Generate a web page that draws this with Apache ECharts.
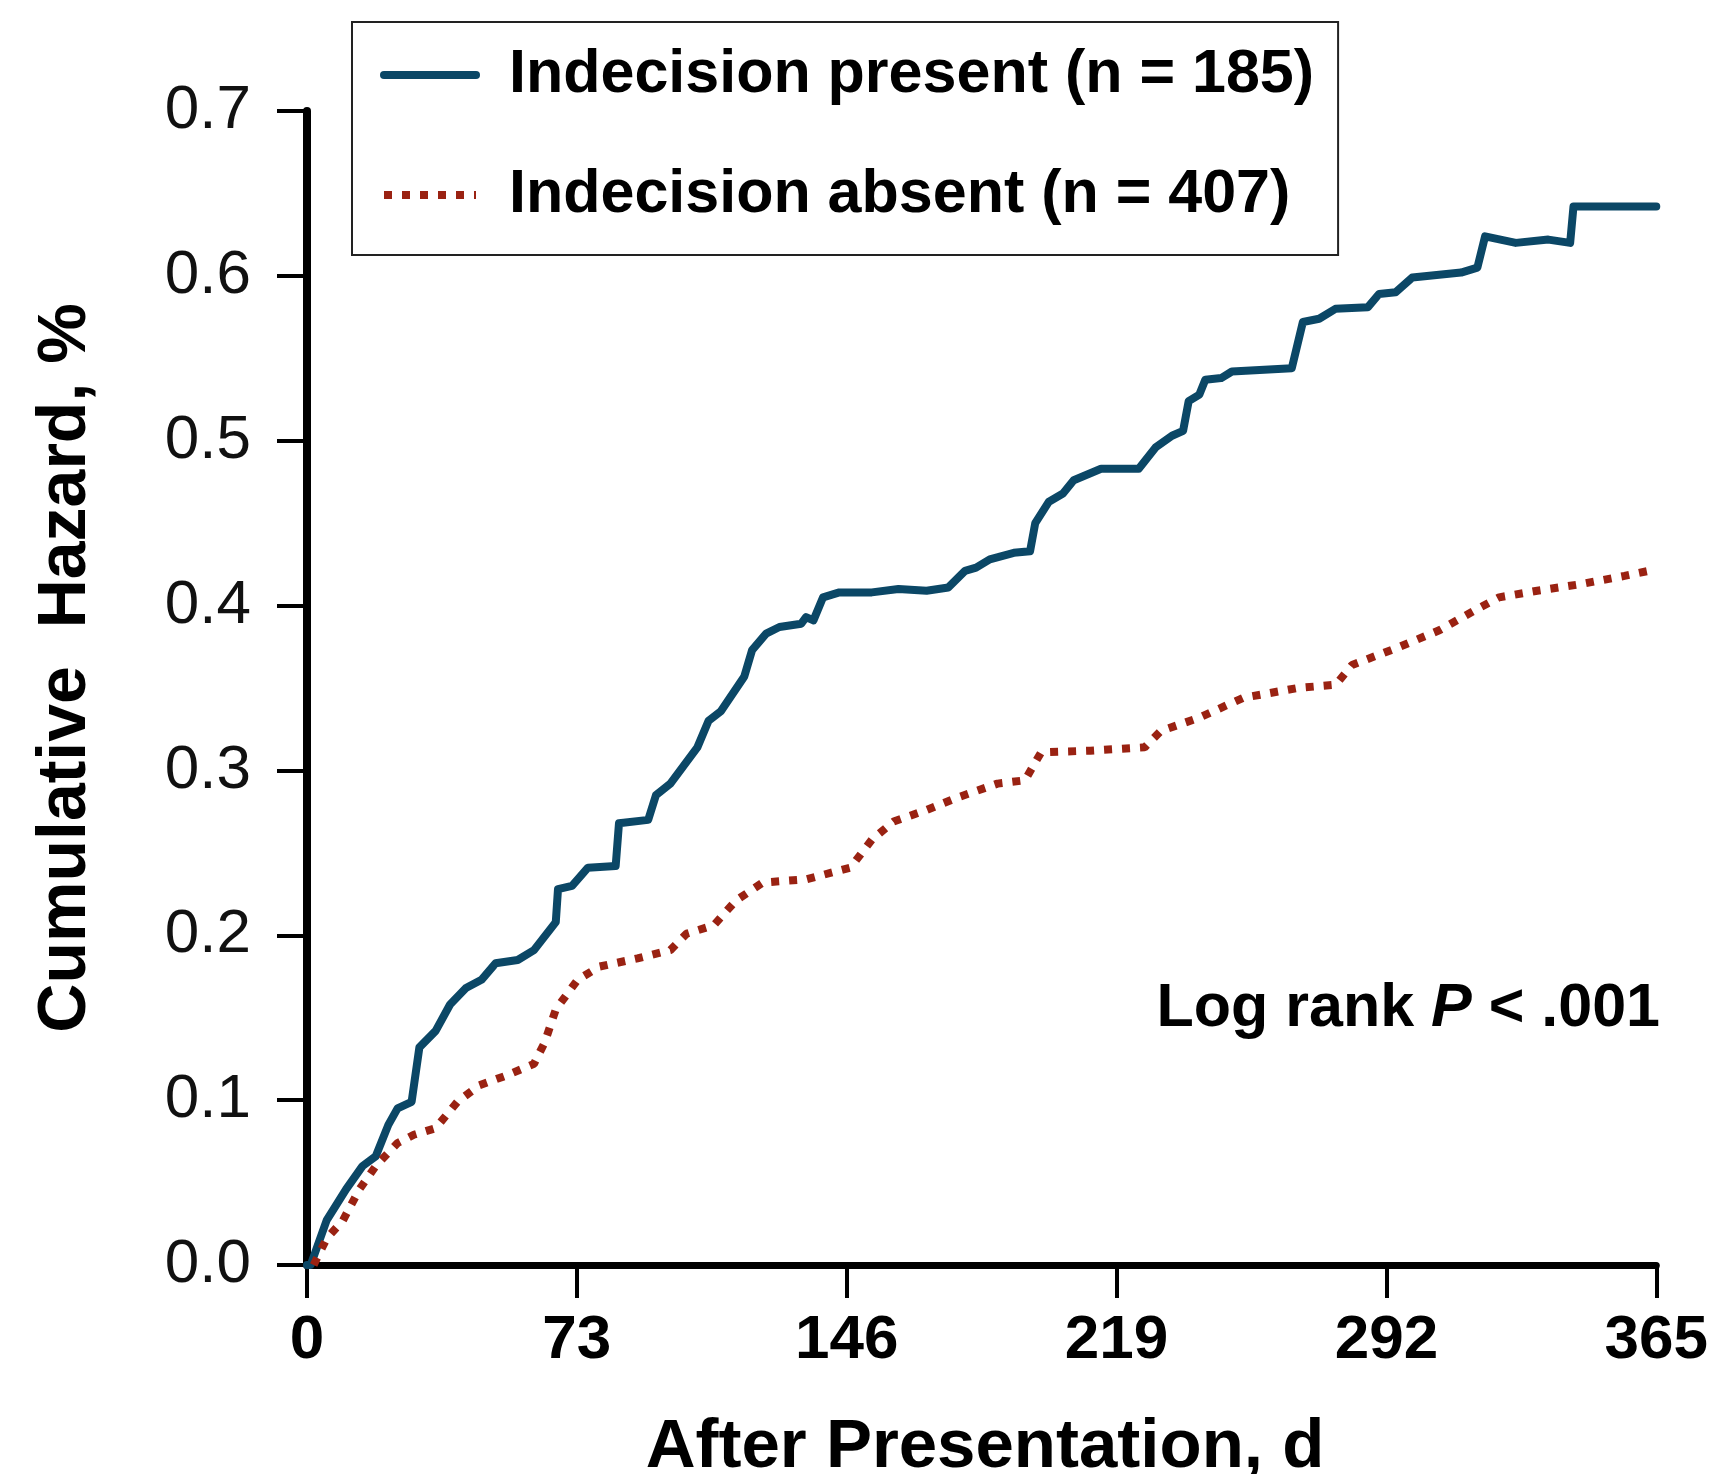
<!DOCTYPE html>
<html>
<head>
<meta charset="utf-8">
<script src="https://cdn.jsdelivr.net/npm/echarts@6/dist/echarts.min.js"></script>
<style>
  html, body { margin: 0; padding: 0; background: #ffffff; }
  #chart { width: 1711px; height: 1474px; }
</style>
</head>
<body>
<div id="chart"></div>
<script>
// ---- Data ----
const xTicks = [0, 73, 146, 219, 292, 365];
const yTicks = [0.0, 0.1, 0.2, 0.3, 0.4, 0.5, 0.6, 0.7];

const seriesNames = ['Indecision present (n = 185)', 'Indecision absent (n = 407)'];

const presentDays = [0, 1, 5.3, 10.6, 15, 18.6, 22, 24.5, 28.3, 30.4, 34.8, 38.7, 43, 47.2, 51, 57, 61.4, 67.3, 67.9, 71.7, 76, 83.5, 84.4, 92.3, 94.4, 98.3, 105.6, 108.6, 112, 118.3, 120.4, 124.2, 127.8, 133.7, 135, 137, 139.6, 144, 152.8, 160, 167.6, 173.5, 178, 181, 184.7, 191.2, 195.6, 197, 200.7, 204.5, 207.4, 214.8, 225, 229.6, 234, 237, 238.5, 241.4, 243, 247.3, 250.2, 266.4, 269.4, 273.8, 278.2, 287, 290, 294.5, 299, 312.2, 316.6, 318.7, 327, 335.8, 341.7, 342.6, 365];
const presentHazard = [0, 0, 0.027, 0.046, 0.060, 0.066, 0.085, 0.095, 0.099, 0.132, 0.142, 0.158, 0.168, 0.173, 0.183, 0.185, 0.191, 0.208, 0.228, 0.230, 0.241, 0.242, 0.268, 0.270, 0.285, 0.292, 0.314, 0.330, 0.336, 0.357, 0.373, 0.383, 0.387, 0.389, 0.393, 0.391, 0.405, 0.408, 0.408, 0.410, 0.409, 0.411, 0.421, 0.423, 0.428, 0.432, 0.433, 0.450, 0.463, 0.468, 0.476, 0.483, 0.483, 0.496, 0.503, 0.506, 0.524, 0.528, 0.537, 0.538, 0.542, 0.544, 0.572, 0.574, 0.580, 0.581, 0.589, 0.590, 0.599, 0.602, 0.605, 0.624, 0.620, 0.622, 0.620, 0.642, 0.642];

const absentDays = [1.8, 5.3, 9.7, 14.2, 18.6, 24.5, 28.9, 34.8, 40.7, 46.6, 54, 61.4, 64.3, 67.3, 73.2, 79.1, 89.4, 98.3, 102.7, 110, 116, 123.3, 135.1, 147, 152.8, 158.7, 167.6, 176.5, 186.8, 194.2, 198.6, 211.9, 226.6, 231, 241.4, 253.2, 268, 278.3, 282.7, 294.5, 306.3, 316.6, 322.5, 332.8, 344.6, 356.4, 365];
const absentHazard = [0, 0.016, 0.027, 0.046, 0.060, 0.074, 0.079, 0.083, 0.099, 0.109, 0.115, 0.122, 0.135, 0.155, 0.173, 0.181, 0.186, 0.191, 0.201, 0.206, 0.221, 0.232, 0.234, 0.241, 0.258, 0.269, 0.276, 0.284, 0.292, 0.294, 0.311, 0.312, 0.314, 0.324, 0.332, 0.344, 0.350, 0.352, 0.364, 0.374, 0.385, 0.398, 0.405, 0.409, 0.413, 0.418, 0.422];

const yAxisTitle = 'Cumulative  Hazard, %';
const xAxisTitle = 'After Presentation, d';

// ---- Build ----
const presentData = presentDays.map((d, i) => [d, presentHazard[i]]);
const absentData = absentDays.map((d, i) => [d, absentHazard[i]]);

const FONT = '"Liberation Sans", Arial, Helvetica, sans-serif';
const BLUE = '#0b4766';
const RED = '#9a2212';
const chart = echarts.init(document.getElementById('chart'), null, { renderer: 'canvas' });

const option = {
  backgroundColor: '#ffffff',
  animation: false,
  grid: { left: 307, right: 54, top: 111, bottom: 209, containLabel: false },
  legend: {
    orient: 'vertical',
    left: 352,
    top: 22,
    padding: [17, 24, 24, 28],
    itemWidth: 92,
    itemHeight: 20,
    itemGap: 48,
    borderColor: '#222222',
    borderWidth: 2,
    itemStyle: { opacity: 0 },
    data: [
      { name: seriesNames[0], lineStyle: { width: 8, color: BLUE, type: 'solid' } },
      { name: seriesNames[1], lineStyle: { width: 8, color: RED, type: [8, 10] } }
    ],
    textStyle: {
      fontFamily: FONT,
      fontWeight: 'bold',
      fontSize: 61,
      lineHeight: 72,
      color: '#000000',
      padding: [0, 0, 0, 28]
    }
  },
  xAxis: {
    type: 'value',
    min: 0,
    max: 365,
    interval: 73,
    splitLine: { show: false },
    axisLine: { show: true, onZero: false, lineStyle: { color: '#000', width: 7 } },
    axisTick: { show: true, length: 33, lineStyle: { color: '#000', width: 4 } },
    axisLabel: {
      margin: 45,
      fontFamily: FONT,
      fontWeight: 'bold',
      fontSize: 62,
      color: '#000',
      formatter: v => String(Math.round(v))
    }
  },
  yAxis: {
    type: 'value',
    min: 0,
    max: 0.7,
    interval: 0.1,
    splitLine: { show: false },
    axisLine: { show: true, onZero: false, lineStyle: { color: '#000', width: 8 } },
    axisTick: { show: true, length: 30, lineStyle: { color: '#000', width: 4 } },
    axisLabel: {
      margin: 56,
      fontFamily: FONT,
      fontSize: 62,
      color: '#111',
      formatter: v => v.toFixed(1)
    }
  },
  series: [
    {
      name: seriesNames[0],
      type: 'line',
      data: presentData,
      showSymbol: false,
      symbol: 'none',
      smooth: false,
      lineStyle: { color: BLUE, width: 8, join: 'round', cap: 'round' },
      itemStyle: { color: BLUE },
      z: 3
    },
    {
      name: seriesNames[1],
      type: 'line',
      data: absentData,
      showSymbol: false,
      symbol: 'none',
      smooth: false,
      lineStyle: { color: RED, width: 8, type: [8, 10], cap: 'butt' },
      itemStyle: { color: RED },
      z: 3
    }
  ],
  graphic: [
    {
      type: 'text',
      x: 66,
      y: 668,
      rotation: Math.PI / 2,
      style: {
        text: yAxisTitle,
        font: 'bold 68px ' + FONT,
        fill: '#000',
        align: 'center',
        verticalAlign: 'middle'
      }
    },
    {
      type: 'text',
      x: 985,
      y: 1448,
      style: {
        text: xAxisTitle,
        font: 'bold 69px ' + FONT,
        fill: '#000',
        align: 'center',
        verticalAlign: 'middle'
      }
    },
    {
      type: 'text',
      x: 1660,
      y: 1009,
      style: {
        text: '{b|Log rank }{i|P}{b| < .001}',
        align: 'right',
        verticalAlign: 'middle',
        rich: {
          b: { fontFamily: FONT, fontWeight: 'bold', fontSize: 61, fill: '#000', color: '#000' },
          i: { fontFamily: FONT, fontWeight: 'bold', fontStyle: 'italic', fontSize: 61, fill: '#000', color: '#000' }
        }
      }
    }
  ]
};

chart.setOption(option);
</script>
</body>
</html>
